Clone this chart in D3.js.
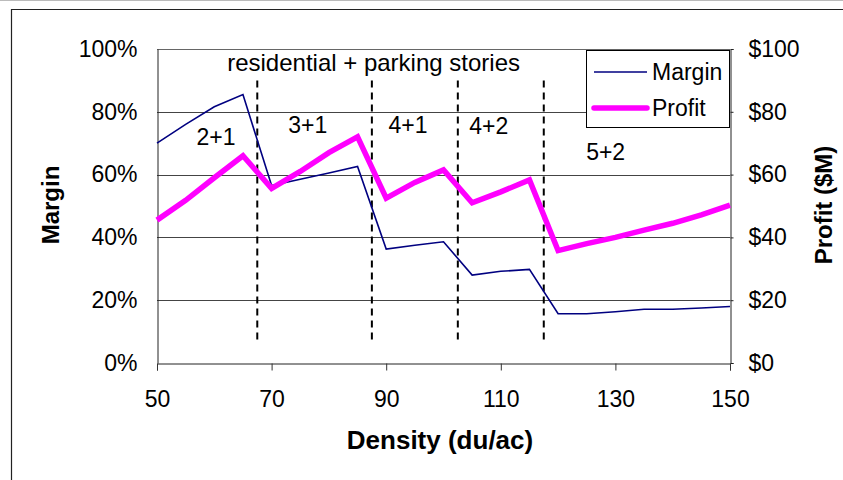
<!DOCTYPE html>
<html><head><meta charset="utf-8">
<script src="https://cdn.jsdelivr.net/npm/d3@7/dist/d3.min.js"></script>
<style>
html,body{margin:0;padding:0;background:#fff;}
svg{display:block;font-family:Arial,"Liberation Sans",sans-serif;}
</style></head>
<body>
<svg id="chart" width="843" height="480"></svg>
<script>
// ---- data ----
const density = [50,55,60,65,70,75,80,85,90,95,100,105,110,115,120,125,130,135,140,145,150];
const margin  = [70,76,81.6,85.5,56.5,58.5,60.5,62.6,36.3,37.5,38.6,28,29.2,29.8,15.7,15.7,16.3,17.1,17.1,17.5,18.0];
const profit  = [45.5,51.8,59,66,55.6,61,67,72,52.5,57.5,61.5,51,54.5,58.3,35.8,38,40,42.3,44.5,47.2,50.3];
const dividers = [67.5,87.5,102.5,117.5];
const dividerSpan = [7.3,90];
const regionLabels = ["2+1","3+1","4+1","4+2","5+2"];
const regionX = [60.3,76.3,93.8,107.9,128.3];
const regionY = [72,75.8,75.8,75.6,67.3];
const xTicks = [50,70,90,110,130,150];
const yTicksLeft = [0,20,40,60,80,100];
const yTicksRight = [0,20,40,60,80,100];
const seriesNames = ["Margin","Profit"];

// ---- layout ----
const svg = d3.select("#chart");
const L=157, R=730, T=49, B=363;
const x = d3.scaleLinear().domain([50,150]).range([L,R]);
const yL = d3.scaleLinear().domain([0,100]).range([B,T]);
const yR = d3.scaleLinear().domain([0,100]).range([B,T]);
const FS = 23, FA = 24;

// outer frame
svg.append("line").attr("x1",0).attr("x2",843).attr("y1",0.5).attr("y2",0.5).attr("stroke","#bbb").attr("stroke-width",1);
svg.append("path").attr("d","M11.5,480 V9.5 H843").attr("fill","none").attr("stroke","#222").attr("stroke-width",1.2);

// gridlines
svg.append("g").selectAll("line").data(yTicksLeft.filter(d=>d>0 && d<100)).join("line")
  .attr("x1",L).attr("x2",R).attr("y1",d=>Math.round(yL(d))+0.5).attr("y2",d=>Math.round(yL(d))+0.5)
  .attr("stroke","#444").attr("stroke-width",1);
// plot top border
svg.append("line").attr("x1",L).attr("x2",R).attr("y1",T+0.5).attr("y2",T+0.5).attr("stroke","#666");

// axes
const gx = svg.append("g").attr("transform",`translate(0,${B+0.5})`)
  .call(d3.axisBottom(x).tickValues(xTicks).tickSize(7).tickPadding(20).tickFormat(d3.format("d")));
const gl = svg.append("g").attr("transform",`translate(${L+0.5},0)`)
  .call(d3.axisLeft(yL).tickValues(yTicksLeft).tickSize(0).tickPadding(20).tickFormat(d=>d+"%"));
const gr = svg.append("g").attr("transform",`translate(${R+0.5},0)`)
  .call(d3.axisRight(yR).tickValues(yTicksRight).tickSize(3).tickPadding(15).tickFormat(d=>"$"+d));
[gx,gl,gr].forEach(g=>{
  g.select(".domain").attr("stroke","#222");
  g.selectAll(".tick line").attr("stroke","#222");
  g.selectAll("text").attr("font-size",FS).attr("fill","#000").attr("font-family","Arial, 'Liberation Sans', sans-serif");
});
gx.selectAll(".tick line").attr("stroke","#333");

// axis titles
svg.append("text").attr("x",440).attr("y",449).attr("text-anchor","middle")
  .attr("font-size",26).attr("font-weight","bold").text("Density (du/ac)");
svg.append("text").attr("transform",`translate(59,205) rotate(-90)`).attr("text-anchor","middle")
  .attr("font-size",24).attr("font-weight","bold").text("Margin");
svg.append("text").attr("transform",`translate(832,205) rotate(-90)`).attr("text-anchor","middle")
  .attr("font-size",24).attr("font-weight","bold").text("Profit ($M)");

// dividers
svg.append("g").selectAll("line").data(dividers).join("line")
  .attr("x1",d=>x(d)).attr("x2",d=>x(d)).attr("y1",yL(dividerSpan[1])).attr("y2",yL(dividerSpan[0]))
  .attr("stroke","#000").attr("stroke-width",2).attr("stroke-dasharray","7,5");

// region labels
svg.append("g").selectAll("text").data(regionLabels).join("text")
  .attr("x",(d,i)=>x(regionX[i])).attr("y",(d,i)=>yL(regionY[i])+8).attr("text-anchor","middle")
  .attr("font-size",FS).text(d=>d);
svg.append("text").attr("x",x(87.8)).attr("y",yL(95.5)+8).attr("text-anchor","middle")
  .attr("font-size",FA).text("residential + parking stories");

// lines
const data = density.map((d,i)=>({d,m:margin[i],p:profit[i]}));
svg.append("path").datum(data).attr("fill","none").attr("stroke","#000080").attr("stroke-width",1.6)
  .attr("d",d3.line().x(d=>x(d.d)).y(d=>yL(d.m)));
svg.append("path").datum(data).attr("fill","none").attr("stroke","#FF00FF").attr("stroke-width",5.5)
  .attr("stroke-linejoin","miter").attr("d",d3.line().x(d=>x(d.d)).y(d=>yR(d.p)));

// legend
const lg = svg.append("g");
lg.append("rect").attr("x",586.5).attr("y",50.5).attr("width",143).attr("height",77)
  .attr("fill","#fff").attr("stroke","#000").attr("stroke-width",1);
const lgColors=["#000080","#FF00FF"], lgW=[1.6,5.5], lgY=[72,108];
seriesNames.forEach((n,i)=>{
  lg.append("line").attr("x1",594).attr("x2",647).attr("y1",lgY[i]).attr("y2",lgY[i])
    .attr("stroke",lgColors[i]).attr("stroke-width",lgW[i]).attr("stroke-linecap",i?"round":"butt");
  lg.append("text").attr("x",652).attr("y",lgY[i]+8).attr("font-size",FS).text(n);
});
</script>
</body></html>
